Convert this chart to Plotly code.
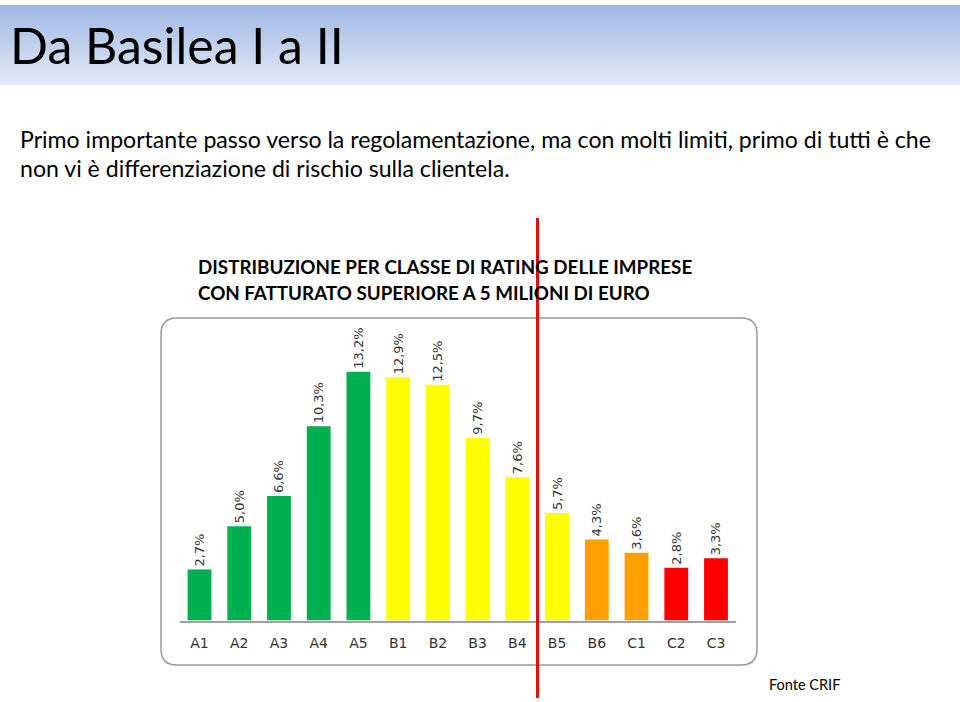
import plotly.graph_objects as go

W, H = 960, 702

categories = ["A1", "A2", "A3", "A4", "A5", "B1", "B2", "B3", "B4", "B5", "B6", "C1", "C2", "C3"]
values = [2.7, 5.0, 6.6, 10.3, 13.2, 12.9, 12.5, 9.7, 7.6, 5.7, 4.3, 3.6, 2.8, 3.3]
bar_colors = ["#00B050"] * 5 + ["#FFFF00"] * 5 + ["#FFA000"] * 2 + ["#FF0000"] * 2
labels = [f"{v:.1f}".replace(".", ",") + "%" for v in values]

title = "Da Basilea I a II"
subtitle_lines = [
    "Primo importante passo verso la regolamentazione, ma con molti limiti, primo di tutti è che",
    "non vi è differenziazione di rischio sulla clientela.",
]
chart_title_lines = [
    "DISTRIBUZIONE PER CLASSE DI RATING DELLE IMPRESE",
    "CON FATTURATO SUPERIORE A 5 MILIONI DI EURO",
]
source = "Fonte CRIF"


def px(p):
    return p / W


def py(p):
    return 1 - p / H


TEXT_FONT = "Lato, Open Sans, sans-serif"
LABEL_FONT = "DejaVu Sans, Verdana, sans-serif"

fig = go.Figure()
fig.add_trace(go.Bar(
    x=categories, y=values,
    marker=dict(color=bar_colors, line=dict(width=0)),
    text=labels, textposition="outside", textangle=-90,
    constraintext="none", cliponaxis=False,
    textfont=dict(family=LABEL_FONT, size=13, color="#333333"),
    hoverinfo="skip",
))

shapes = []
# gradient title band
n = 40
top, bot = 5, 85
c0 = (159, 184, 227)
c1 = (226, 233, 246)
for i in range(n):
    t = i / (n - 1)
    c = tuple(round(c0[k] + (c1[k] - c0[k]) * t) for k in range(3))
    y0 = top + (bot - top) * i / n
    y1 = top + (bot - top) * (i + 1) / n + 0.5
    shapes.append(dict(type="rect", xref="paper", yref="paper", layer="below",
                       x0=0, x1=1, y0=py(y0), y1=py(min(y1, bot)),
                       fillcolor=f"rgb{c}", line=dict(width=0)))

# rounded frame
fx0, fx1, fy0, fy1, r = 161, 757, 318, 665, 16
rx, ry = r / W, r / H
X0, X1, YT, YB = px(fx0), px(fx1), py(fy0), py(fy1)
path = (f"M {X0+rx},{YT} L {X1-rx},{YT} Q {X1},{YT} {X1},{YT-ry} "
        f"L {X1},{YB+ry} Q {X1},{YB} {X1-rx},{YB} L {X0+rx},{YB} "
        f"Q {X0},{YB} {X0},{YB+ry} L {X0},{YT-ry} Q {X0},{YT} {X0+rx},{YT} Z")
shapes.append(dict(type="path", xref="paper", yref="paper", path=path,
                   line=dict(color="#9a9a9a", width=1.5), layer="below"))

# red vertical line
shapes.append(dict(type="line", xref="paper", yref="paper",
                   x0=px(537.5), x1=px(537.5), y0=py(218), y1=py(698),
                   line=dict(color="#E01010", width=3), layer="above"))

annotations = [
    dict(text=title, x=px(8), y=py(45), xref="paper", yref="paper",
         xanchor="left", yanchor="middle", showarrow=False,
         font=dict(family=TEXT_FONT, size=50, color="#000000")),
]
for i, line in enumerate(subtitle_lines):
    annotations.append(dict(text=line, x=px(18), y=py(139 + 29 * i), xref="paper", yref="paper",
                            xanchor="left", yanchor="middle", showarrow=False,
                            font=dict(family=TEXT_FONT, size=23.1, color="#000000")))
for i, line in enumerate(chart_title_lines):
    annotations.append(dict(text=f"<b>{line}</b>", x=px(196), y=py(266 + 27 * i), xref="paper", yref="paper",
                            xanchor="left", yanchor="middle", showarrow=False,
                            font=dict(family=TEXT_FONT, size=18.8, color="#000000")))
annotations.append(dict(text=source, x=px(767), y=py(684), xref="paper", yref="paper",
                        xanchor="left", yanchor="middle", showarrow=False,
                        font=dict(family=TEXT_FONT, size=14.5, color="#000000")))

step = (716 - 199.5) / 13
xa0 = 199.5 - step / 2
xa1 = 716 + step / 2
base = 620.5
scale = 18.85
ymax = 16
fig.update_layout(
    width=W, height=H, autosize=False,
    margin=dict(l=0, r=0, t=0, b=0),
    paper_bgcolor="white", plot_bgcolor="white",
    showlegend=False, bargap=0.4,
    xaxis=dict(domain=[px(xa0), px(xa1)], range=[-0.5, 13.5], type="category",
               showline=True, linecolor="#a0a0a0", linewidth=1.5,
               showgrid=False, zeroline=False, ticks="", ticklabelstandoff=9,
               tickfont=dict(family=LABEL_FONT, size=14, color="#333333"),
               fixedrange=True),
    yaxis=dict(domain=[py(base), py(base - ymax * scale)], range=[0, ymax],
               visible=False, fixedrange=True),
    shapes=shapes, annotations=annotations,
)

fig.write_html("out.html")
